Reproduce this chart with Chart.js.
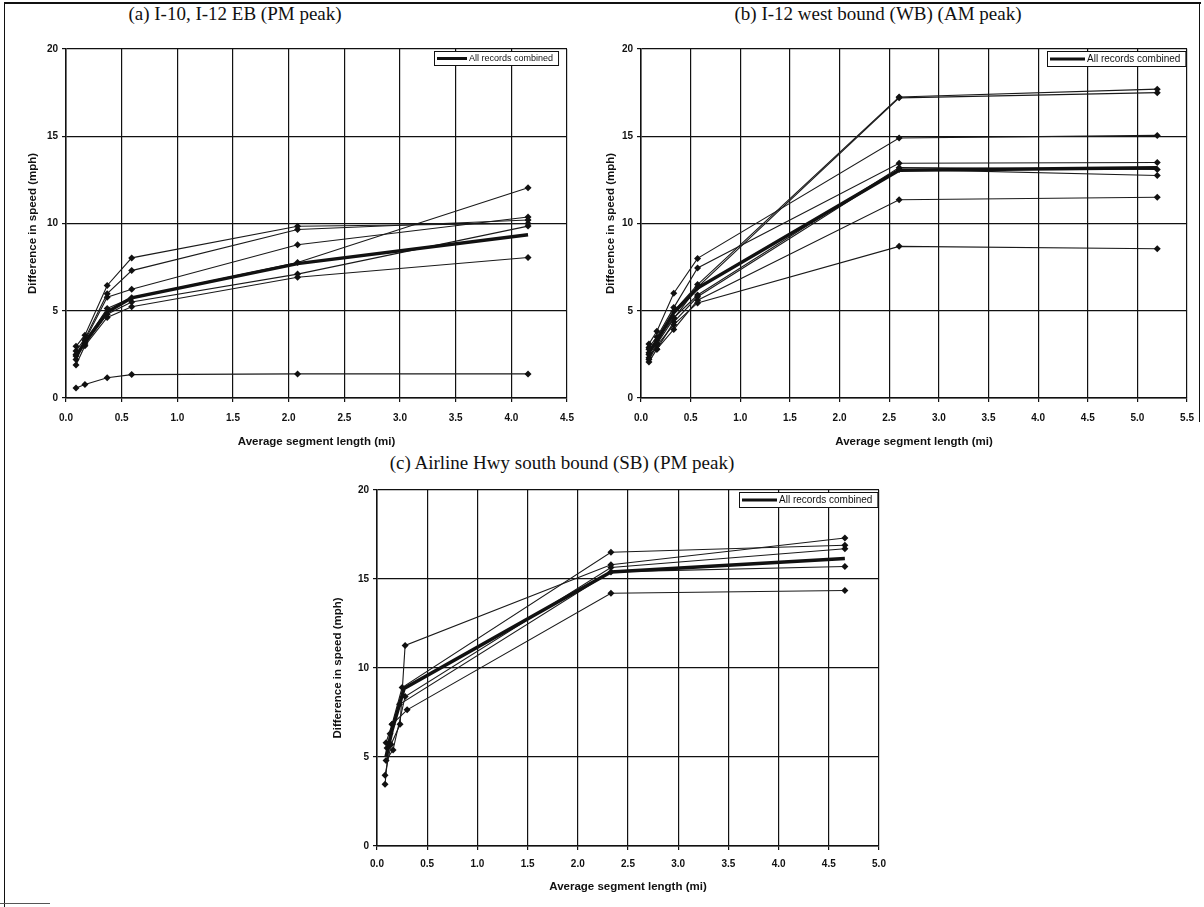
<!DOCTYPE html>
<html lang="en">
<head>
<meta charset="UTF-8">
<title>Difference in speed vs average segment length</title>
<script src="https://cdn.jsdelivr.net/npm/chart.js"></script>
<style>
  html, body { margin: 0; padding: 0; background: #fff; }
  body { width: 1204px; height: 907px; position: relative; overflow: hidden; }
  .frame { position: absolute; left: 4px; top: 2px; width: 1196px; height: 903px; border-left: 1.5px solid #111; border-top: 2px solid #111; }
  .frame-right { position: absolute; left: 1199px; top: 2px; height: 420px; border-left: 1.5px solid #111; }
  .frame-bottom { position: absolute; left: 0; top: 903px; width: 50px; border-top: 1px solid #555; }
  .title { position: absolute; font-family: "Liberation Serif", "Times New Roman", serif; font-size: 19px; color: #111; white-space: nowrap; transform: translateX(-50%); line-height: 22px; }
  canvas { position: absolute; }
</style>
</head>
<body>
<div class="frame"></div>
<div class="frame-right"></div>
<div class="frame-bottom"></div>

<div class="title" style="left:235px; top:3px;">(a) I-10, I-12 EB (PM peak)</div>
<div class="title" style="left:878px; top:3px;">(b) I-12 west bound (WB) (AM peak)</div>
<div class="title" style="left:562px; top:452px;">(c) Airline Hwy south bound (SB) (PM peak)</div>

<canvas id="chartA" width="590" height="450" style="left:8px; top:4px;"></canvas>
<canvas id="chartB" width="604" height="450" style="left:600px; top:4px;"></canvas>
<canvas id="chartC" width="600" height="455" style="left:300px; top:450px;"></canvas>

<script>
// ---- data ----
const legendLabel = 'All records combined';
const xTitle = 'Average segment length (mi)';
const yTitle = 'Difference in speed (mph)';

// (a) I-10, I-12 EB
const aX = [0.09, 0.17, 0.37, 0.59, 2.08, 4.15];
const aRecords = [
  [2.96, 3.6, 6.45, 8.03, 9.84, 10.0],
  [2.7, 3.4, 5.98, 7.3, 9.66, 10.2],
  [2.4, 3.3, 5.78, 6.23, 8.78, 10.37],
  [2.2, 3.2, 5.13, 5.74, 7.77, 12.05],
  [2.5, 3.1, 4.8, 5.5, 7.1, 9.85],
  [1.89, 3.0, 4.62, 5.23, 6.92, 8.05],
  [0.57, 0.77, 1.16, 1.34, 1.38, 1.38]
];
const aCombined = [2.4, 3.2, 4.93, 5.74, 7.7, 9.35];
const aXMax = 4.5;

// (b) I-12 WB
const bX = [0.08, 0.16, 0.33, 0.57, 2.6, 5.2];
const bRecords = [
  [3.1, 3.83, 6.0, 8.0, 14.9, 15.05],
  [2.9, 3.5, 5.18, 7.45, 13.45, 13.5],
  [2.6, 3.1, 4.97, 6.5, 17.25, 17.7],
  [2.3, 3.1, 4.55, 6.35, 17.2, 17.5],
  [2.07, 2.8, 4.35, 5.8, 13.1, 12.75],
  [2.5, 2.8, 3.93, 5.6, 11.36, 11.5],
  [2.2, 3.0, 4.2, 5.45, 8.69, 8.55],
  [2.8, 3.3, 4.6, 5.9, 13.2, 13.1]
];
const bCombined = [2.6, 3.3, 4.9, 6.3, 13.05, 13.2];
const bXMax = 5.5;

// (c) Airline Hwy SB - records have slightly different lengths at the short end
const cRecordX = [
  [0.09, 0.15, 0.25, 2.33, 4.66],
  [0.08, 0.14, 0.23, 0.28, 2.33, 4.66],
  [0.09, 0.16, 0.28, 2.33, 4.66],
  [0.08, 0.13, 0.225, 2.33, 4.66],
  [0.10, 0.15, 0.30, 2.33, 4.66]
];
const cRecordY = [
  [5.8, 6.84, 8.9, 16.5, 16.9],
  [3.98, 5.7, 6.84, 11.27, 15.8, 17.3],
  [4.8, 5.4, 8.4, 15.65, 16.7],
  [3.47, 6.3, 7.96, 15.4, 15.7],
  [5.5, 6.84, 7.65, 14.2, 14.35]
];
const cCombinedX = [0.09, 0.15, 0.27, 2.33, 4.66];
const cCombinedY = [5.0, 6.5, 8.85, 15.4, 16.15];
const cXMax = 5.0;

const yTicks = [0, 5, 10, 15, 20];

// ---- helpers ----
const sans = '"Liberation Sans", Arial, sans-serif';
const ink = '#111';

function pts(xs, ys) {
  return xs.map((x, i) => ({ x: x, y: ys[i] }));
}

function recordSet(data) {
  return {
    data: data,
    showLine: true,
    borderColor: '#1a1a1a',
    backgroundColor: ink,
    borderWidth: 1.1,
    pointStyle: 'rectRot',
    pointRadius: 3.5,
    pointBorderWidth: 0,
    order: 2
  };
}

function combinedSet(data) {
  return {
    label: legendLabel,
    data: data,
    showLine: true,
    borderColor: ink,
    backgroundColor: ink,
    borderWidth: 3.5,
    pointRadius: 0,
    order: 1
  };
}

// legend box drawn inside the plot area, top right
const legendBox = {
  id: 'legendBox',
  afterDatasetsDraw(chart, args, o) {
    const { ctx, chartArea } = chart;
    ctx.save();
    ctx.font = o.size + 'px ' + sans;
    const tw = ctx.measureText(legendLabel).width;
    const w = o.lineLen + tw + 10;
    const h = o.size + 5;
    const x = Math.round(chartArea.right - w - o.right);
    const y = Math.round(chartArea.top + o.top);
    ctx.fillStyle = '#fff';
    ctx.fillRect(x, y, w, h);
    ctx.strokeStyle = ink;
    ctx.lineWidth = 1;
    ctx.strokeRect(x + 0.5, y + 0.5, w, h);
    ctx.beginPath();
    ctx.moveTo(x + 3, y + h / 2 + 0.5);
    ctx.lineTo(x + 3 + o.lineLen, y + h / 2 + 0.5);
    ctx.lineWidth = 3;
    ctx.stroke();
    ctx.fillStyle = ink;
    ctx.textBaseline = 'middle';
    ctx.fillText(legendLabel, x + o.lineLen + 5, y + h / 2 + 1);
    ctx.restore();
  }
};

function makePanel(id, datasets, cfg) {
  new Chart(document.getElementById(id), {
    type: 'scatter',
    data: { datasets: datasets },
    plugins: [legendBox],
    options: {
      responsive: false,
      animation: false,
      devicePixelRatio: 1,
      layout: { padding: cfg.padding },
      plugins: {
        legend: { display: false },
        tooltip: { enabled: false },
        legendBox: cfg.legend
      },
      scales: {
        x: {
          type: 'linear',
          min: 0,
          max: cfg.xMax,
          afterFit: s => { s.height = cfg.xHeight; },
          afterBuildTicks: s => {
            const t = [];
            for (let v = 0; v <= cfg.xMax + 1e-9; v += 0.5) t.push({ value: Math.round(v * 10) / 10 });
            s.ticks = t;
          },
          ticks: {
            callback: v => Number(v).toFixed(1),
            font: { family: sans, size: 10, weight: 'bold' },
            color: ink,
            padding: cfg.tickPad,
            maxRotation: 0
          },
          grid: { color: ink, lineWidth: 1.2, tickLength: 4, tickColor: ink },
          border: { color: ink, width: 1.5 },
          title: {
            display: true,
            text: xTitle,
            font: { family: sans, size: 11.5, weight: 'bold' },
            color: ink,
            padding: { top: 0, bottom: 0 }
          }
        },
        y: {
          type: 'linear',
          min: 0,
          max: 20,
          afterFit: s => { s.width = cfg.yWidth; },
          afterBuildTicks: s => { s.ticks = yTicks.map(v => ({ value: v })); },
          ticks: {
            font: { family: sans, size: 10, weight: 'bold' },
            color: ink,
            padding: 4
          },
          grid: { color: ink, lineWidth: 1.2, tickLength: 4, tickColor: ink },
          border: { color: ink, width: 1.5 },
          title: {
            display: true,
            text: yTitle,
            font: { family: sans, size: 11.5, weight: 'bold' },
            color: ink,
            padding: { top: 4, bottom: 0 }
          }
        }
      }
    }
  });
}

makePanel('chartA',
  aRecords.map(r => recordSet(pts(aX, r))).concat([combinedSet(pts(aX, aCombined))]),
  {
    xMax: aXMax,
    padding: { top: 45, left: 14, right: 31, bottom: 5 },
    yWidth: 44, xHeight: 51, tickPad: 10,
    legend: { size: 9, lineLen: 30, right: 9, top: 2 }
  });

makePanel('chartB',
  bRecords.map(r => recordSet(pts(bX, r))).concat([combinedSet(pts(bX, bCombined))]),
  {
    xMax: bXMax,
    padding: { top: 45, left: 0, right: 11, bottom: 5 },
    yWidth: 41, xHeight: 51, tickPad: 10,
    legend: { size: 10, lineLen: 35, right: 2, top: 2 }
  });

makePanel('chartC',
  cRecordX.map((xs, i) => recordSet(pts(xs, cRecordY[i]))).concat([combinedSet(pts(cCombinedX, cCombinedY))]),
  {
    xMax: cXMax,
    padding: { top: 40, left: 27, right: 21, bottom: 11 },
    yWidth: 50, xHeight: 48, tickPad: 8,
    legend: { size: 10, lineLen: 35, right: 2, top: 2 }
  });
</script>
</body>
</html>
